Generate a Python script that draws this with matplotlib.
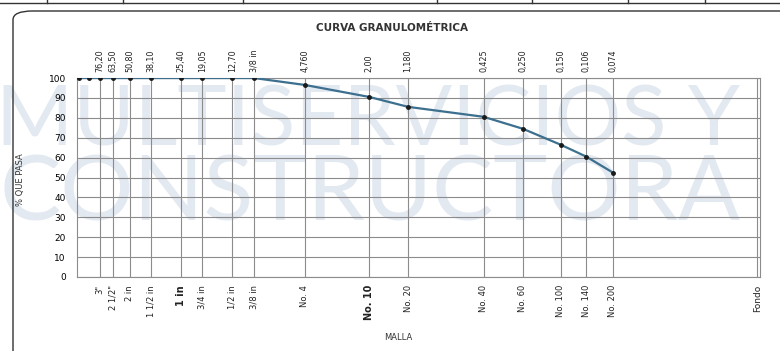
import matplotlib
matplotlib.use("Agg")
import matplotlib.pyplot as plt
from matplotlib.patches import FancyBboxPatch
from matplotlib.lines import Line2D
import matplotlib.transforms as mtransforms

# sieve openings (mm) and percent passing
aberturas = [101.6, 88.9, 76.20, 63.50, 50.80, 38.10, 25.40, 19.05, 12.70, 9.525,
             4.760, 2.00, 1.180, 0.425, 0.250, 0.150, 0.106, 0.074]
pasa = [100, 100, 100, 100, 100, 100, 100, 100, 100, 100,
        96.5, 90.5, 85.5, 80.5, 74.5, 66.5, 60.5, 52.5]

# labelled sieves
mallas_mm = [76.20, 63.50, 50.80, 38.10, 25.40, 19.05, 12.70, 9.525,
             4.760, 2.00, 1.180, 0.425, 0.250, 0.150, 0.106, 0.074]
etiq_sup = ["76,20", "63,50", "50,80", "38,10", "25,40", "19,05", "12,70", "3/8 in",
            "4,760", "2,00", "1,180", "0,425", "0,250", "0,150", "0,106", "0,074"]
etiq_inf = ['3"', '2 1/2"', "2 in", "1 1/2 in", "1 in", "3/4 in", "1/2 in", "3/8 in",
            "No. 4", "No. 10", "No. 20", "No. 40", "No. 60", "No. 100", "No. 140", "No. 200"]
fondo_mm = 0.0105

fig = plt.figure(figsize=(7.8, 3.51), dpi=100)
fig.patch.set_facecolor("white")

# watermark of the letterhead (drawn under the axes)
wm = "#e3e9f1"
fig.text(-0.005, 1 - 123 / 351, "MULTISERVICIOS Y", fontsize=60, color=wm,
         family=["Lato", "DejaVu Sans"], va="center", ha="left", zorder=-5)
fig.text(0.0, 1 - 195 / 351, "CONSTRUCTORA", fontsize=66, color=wm,
         family=["Lato", "DejaVu Sans"], va="center", ha="left", zorder=-5)

# outer rounded frame and top table remnant
fig.patches.append(FancyBboxPatch((13 / 780, -0.05), 1.05, 1 - 11 / 351 + 0.05,
                                  boxstyle="round,pad=0,rounding_size=0.025",
                                  transform=fig.transFigure, fill=False,
                                  edgecolor="#333333", linewidth=1.0))
fig.lines.append(Line2D([0, 1], [1 - 3 / 351] * 2, transform=fig.transFigure,
                        color="#333333", linewidth=1.0))
for px in [47, 123, 243, 437, 532, 628, 705]:
    fig.lines.append(Line2D([px / 780] * 2, [1, 1 - 3 / 351], transform=fig.transFigure,
                            color="#333333", linewidth=1.0))

ax = fig.add_axes([77 / 780, 1 - 277 / 351, (760 - 77) / 780, (277 - 78) / 351])
ax.set_zorder(2)
ax.patch.set_alpha(0)
ax.set_xscale("log")
ax.set_xlim(104, 0.0101)
ax.set_ylim(0, 100)

ax.set_xticks(mallas_mm + [fondo_mm])
ax.set_xticklabels([])
ax.xaxis.set_minor_locator(matplotlib.ticker.NullLocator())
ax.set_yticks(range(0, 101, 10))
ax.set_yticklabels([str(v) for v in range(0, 101, 10)], fontsize=6.5)
ax.tick_params(length=0, pad=8)
ax.grid(True, color="#8c8c8c", linewidth=0.8)
for s in ax.spines.values():
    s.set_color("#8c8c8c")
    s.set_linewidth(0.8)

ax.plot(aberturas, pasa, color="#3d6f8e", linewidth=1.6, zorder=3)
ax.plot(aberturas, pasa, "o", color="#1a1a1a", markersize=2.5, zorder=4)

trans = mtransforms.blended_transform_factory(ax.transData, ax.transAxes)
for x, t in zip(mallas_mm, etiq_sup):
    ax.text(x, 1.03, t, rotation=90, fontsize=5.8, ha="center", va="bottom",
            transform=trans, color="#222222")
for x, t in zip(mallas_mm, etiq_inf):
    bold = t in ("1 in", "No. 10")
    ax.text(x, -0.04, t, rotation=90, fontsize=7 if bold else 6, ha="center", va="top",
            transform=trans, color="#222222", fontweight="bold" if bold else "normal")
ax.text(fondo_mm, -0.04, "Fondo", rotation=90, fontsize=6.5, ha="center", va="top",
        transform=trans, color="#222222")

fig.text(392 / 780, 1 - 28 / 351, "CURVA GRANULOMÉTRICA", fontsize=7.5,
         fontweight="bold", ha="center", va="center", color="#333333")
fig.text(398 / 780, 1 - 338 / 351, "MALLA", fontsize=6, ha="center", va="center",
         color="#333333")
fig.text(20 / 780, 1 - 180 / 351, "% QUE PASA", fontsize=6, rotation=90, ha="center",
         va="center", color="#333333", zorder=3)

fig.savefig("out.png", dpi=100)
